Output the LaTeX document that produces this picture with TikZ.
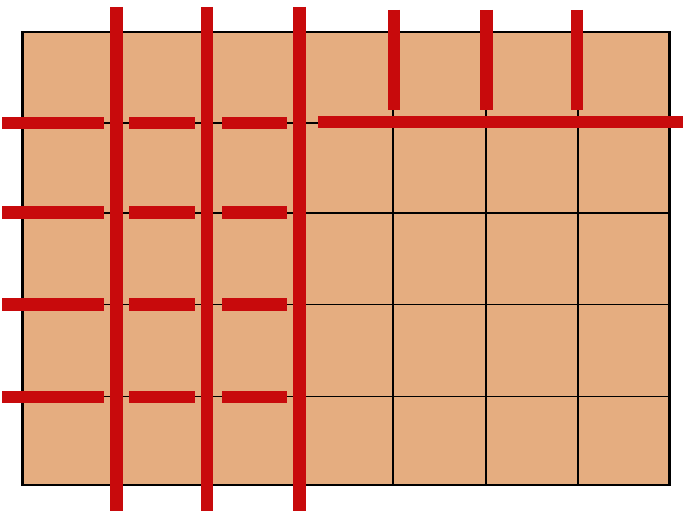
\documentclass[tikz,border=0pt]{standalone}
\definecolor{tan}{HTML}{E5AD80}
\definecolor{bar}{HTML}{C80A0C}
\tikzset{
  gridline/.style={draw=black, line width=1.4pt},
  frame/.style={draw=black, line width=2.4pt, fill=tan},
  redbar/.style={draw=bar, line width=12.5pt},
}
\begin{document}
\begin{tikzpicture}[x=1pt,y=-1pt]
\useasboundingbox (0,0) rectangle (683,511);
% board
\draw[frame] (22.5,32) rectangle (669.5,485);
\foreach \x in {116.5,207,299.5,393,486,578}
  \draw[gridline] (\x,32) -- (\x,485);
\foreach \y in {123,213,304.5,396.5}
  \draw[gridline] (22.5,\y) -- (669.5,\y);
% red horizontal dashes (left part)
\foreach \y in {123,212.5,304.5,397}{
  \draw[redbar] (2,\y) -- (104,\y);
  \draw[redbar] (129,\y) -- (195,\y);
  \draw[redbar] (222,\y) -- (287,\y);
}
% long red bar (top right)
\draw[redbar] (318,122) -- (683,122);
% full red verticals
\foreach \x in {116.5,207,299.5}
  \draw[redbar] (\x,7) -- (\x,511);
% red vertical stubs
\foreach \x in {394,486.5,577}
  \draw[redbar] (\x,10) -- (\x,110);
\end{tikzpicture}
\end{document}
